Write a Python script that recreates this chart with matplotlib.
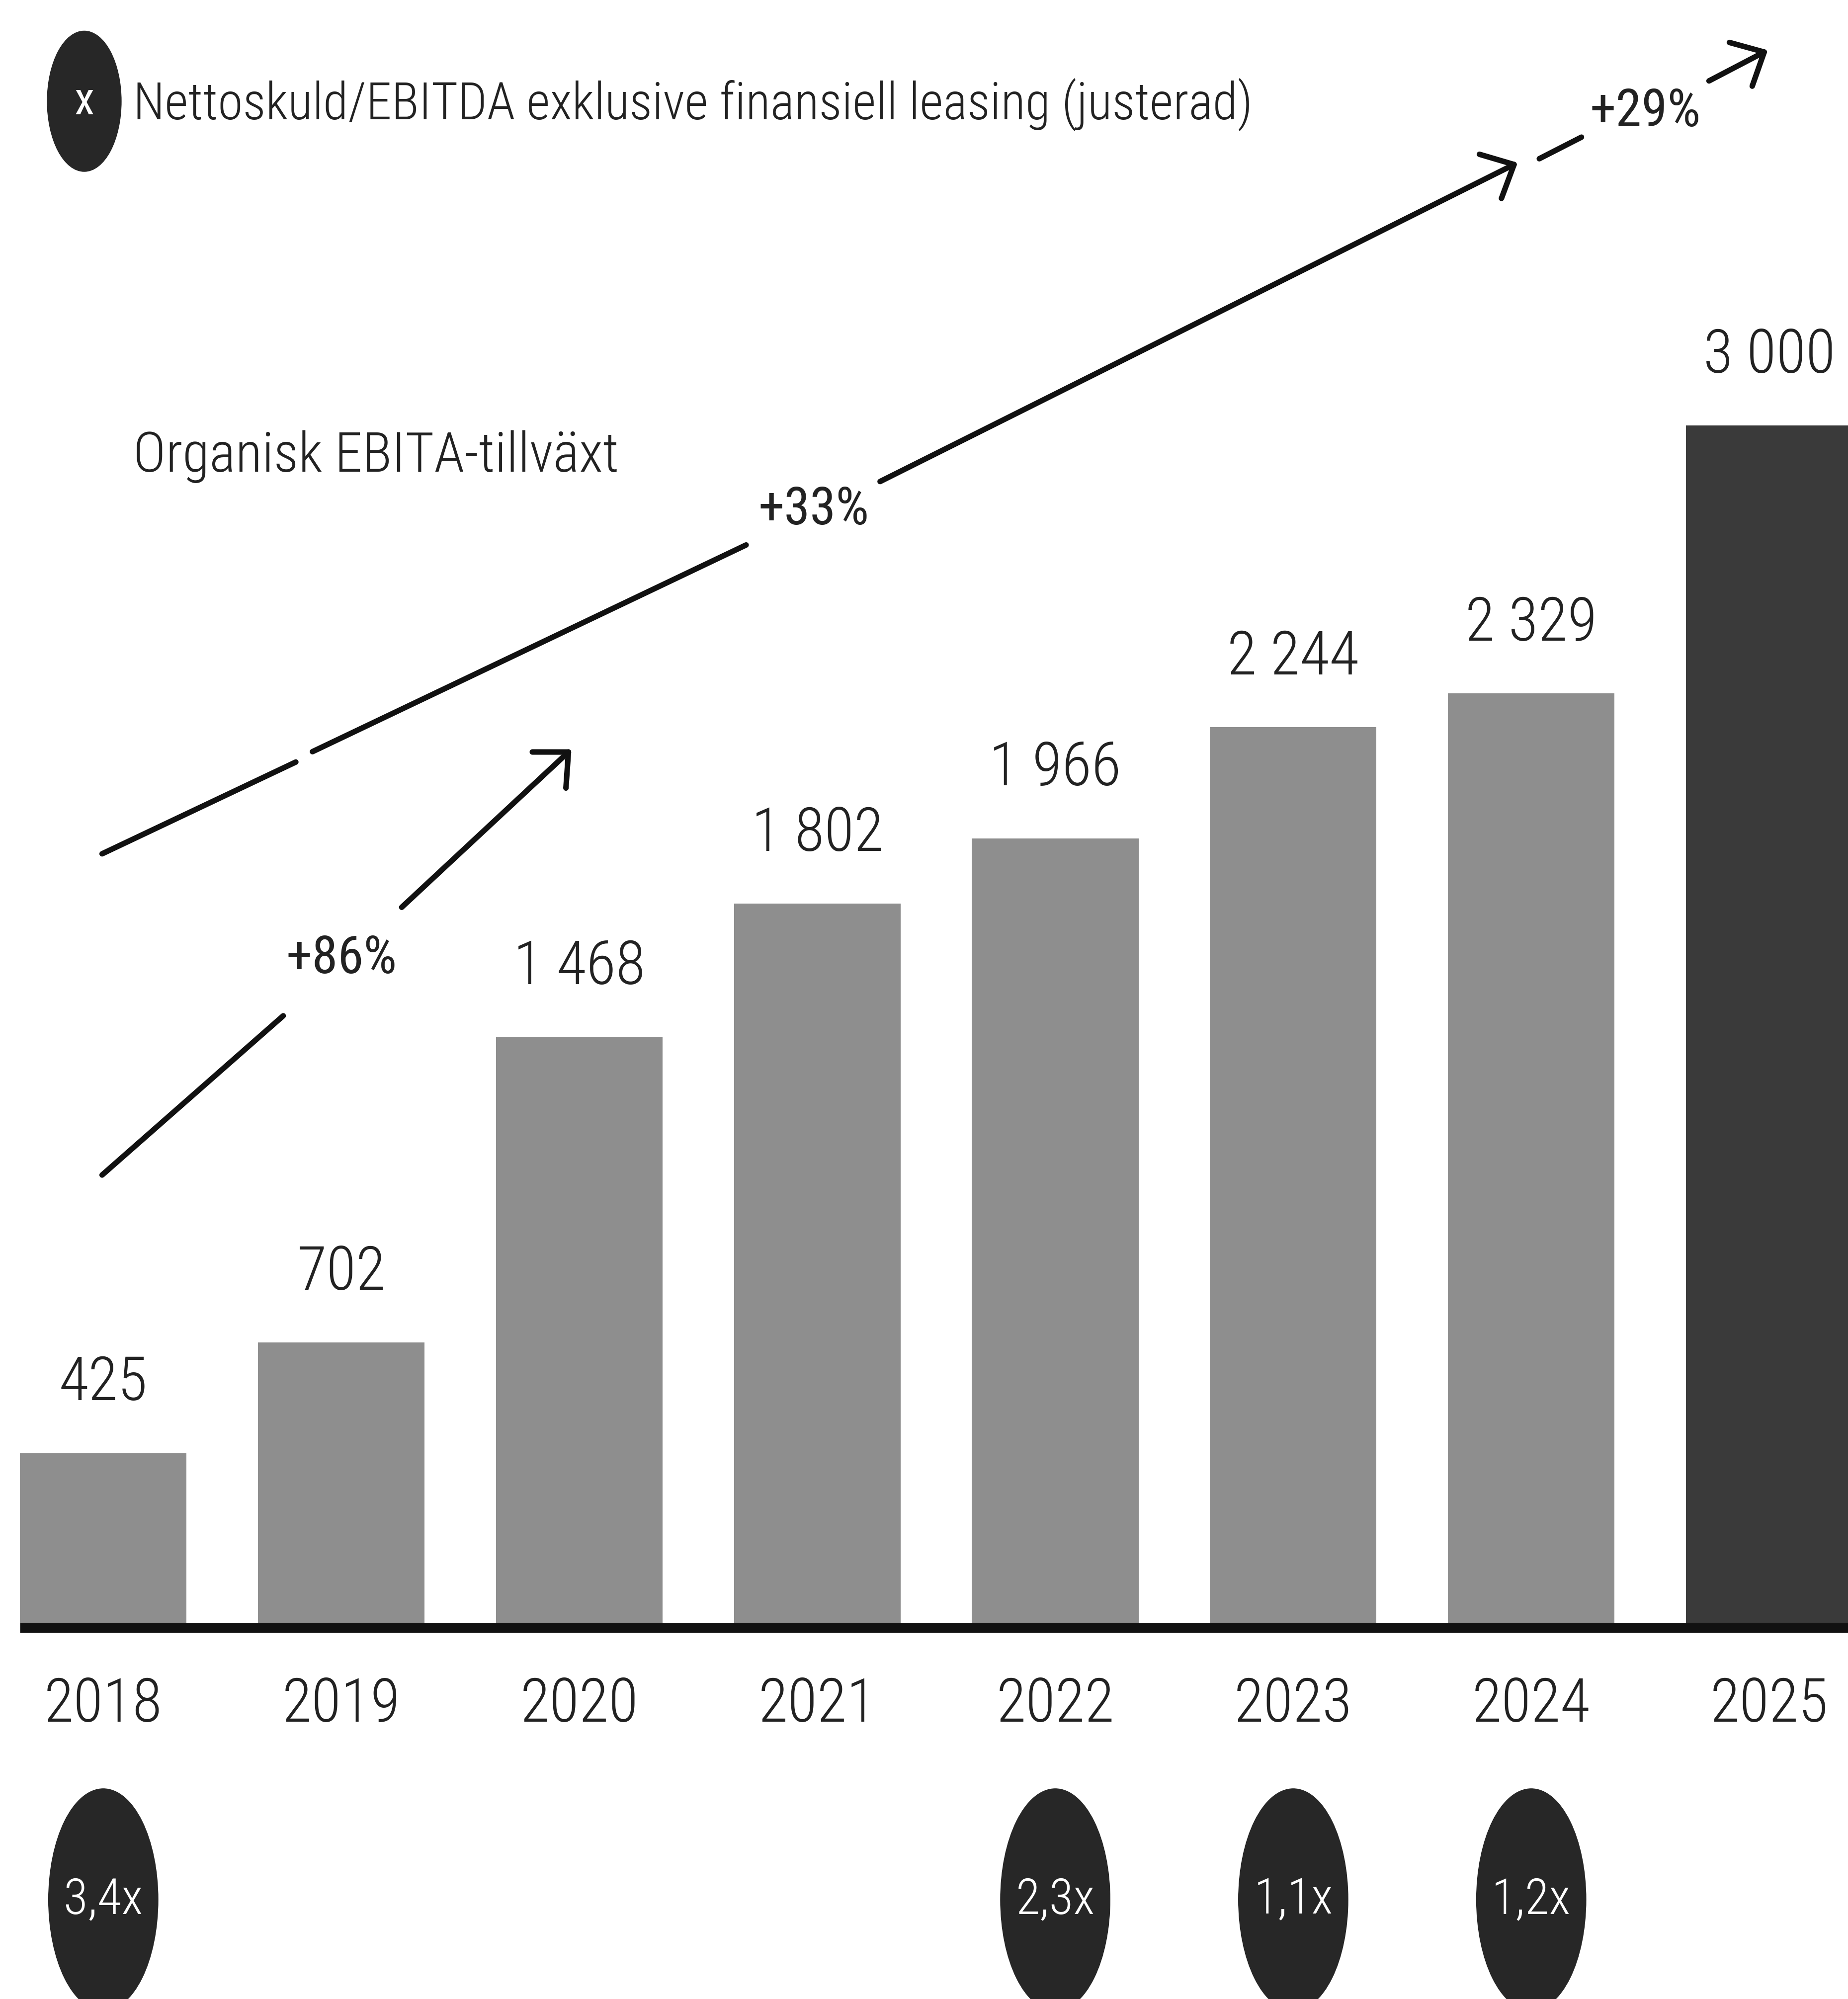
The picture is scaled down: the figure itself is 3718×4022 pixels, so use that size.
import os
import matplotlib
matplotlib.use("Agg")
import matplotlib.pyplot as plt
from matplotlib import font_manager
from matplotlib.font_manager import FontProperties
from matplotlib.patches import Ellipse

# data
years = [2018, 2019, 2020, 2021, 2022, 2023, 2024, 2025]
ebita = [425, 702, 1468, 1802, 1966, 2244, 2329, 3000]
ratio_years = [2018, 2022, 2023, 2024]
ratio_labels = ["3,4x", "2,3x", "1,1x", "1,2x"]
growth_labels = ["+86%", "+33%", "+29%"]
legend_text = "Nettoskuld/EBITDA exklusive finansiell leasing (justerad)"
growth_title = "Organisk EBITA-tillväxt"


def find_font(names):
    files = {os.path.basename(f.fname): f.fname for f in font_manager.fontManager.ttflist}
    for n in names:
        if n in files:
            return files[n]
    return None


light_path = find_font(["NotoSans-ExtraCondensedLight.ttf", "NotoSans-CondensedLight.ttf",
                        "RobotoCondensed-Light.ttf", "LiberationSansNarrow-Regular.ttf",
                        "DejaVuSansCondensed.ttf"])
reg_path = find_font(["NotoSans-ExtraCondensed.ttf", "NotoSans-Condensed.ttf",
                      "RobotoCondensed-Regular.ttf", "LiberationSansNarrow-Regular.ttf",
                      "DejaVuSansCondensed.ttf"])


def fp(path, size):
    if path:
        return FontProperties(fname=path, size=size)
    return FontProperties(family="DejaVu Sans", stretch="condensed", size=size)


text_col = "#222222"
bar_col = "#8e8e8e"
last_col = "#3a3a3a"
circle_col = "#272727"

fig = plt.figure(figsize=(37.18, 40.23), dpi=100)
ax = fig.add_axes([0, 0, 1, 1])
ax.set_xlim(-0.434, 7.331)
ax.set_ylim(-943, 4068)
ax.axis("off")

x = list(range(len(years)))
colors = [bar_col] * (len(years) - 1) + [last_col]
ax.bar(x, ebita, width=0.70, color=colors, zorder=2)
ax.plot([-0.35, 7.4], [-12, -12], color="#111111", lw=14, solid_capstyle="butt", zorder=3)

for xi, v in zip(x, ebita):
    ax.text(xi, v + 176, f"{v:,}".replace(",", " "), ha="center", va="center",
            fontproperties=fp(light_path, 88), color=text_col)
    ax.text(xi, -205, str(years[xi]), ha="center", va="center",
            fontproperties=fp(light_path, 88), color=text_col)

# net debt / EBITDA circles
for yr, lab in zip(ratio_years, ratio_labels):
    xi = years.index(yr)
    ax.add_patch(Ellipse((xi, -694), 0.46, 556, color=circle_col, zorder=2))
    ax.text(xi, -694, lab, ha="center", va="center", color="white",
            fontproperties=fp(light_path, 72), zorder=3)

# legend
ax.add_patch(Ellipse((-0.080, 3813), 0.311, 352, color=circle_col))
ax.text(-0.080, 3813, "x", ha="center", va="center", color="white",
        fontproperties=fp(reg_path, 66))
ax.text(0.125, 3806, legend_text, ha="left", va="center", color=text_col,
        fontproperties=fp(light_path, 74))
ax.text(0.125, 2924, growth_title, ha="left", va="center", color=text_col,
        fontproperties=fp(light_path, 80))

# growth arrows
line_kw = dict(color="#111111", lw=8, solid_capstyle="round", zorder=4)
arrow_kw = dict(arrowstyle="->, head_length=0.45, head_width=0.42", color="#111111",
                lw=8, mutation_scale=85, shrinkA=0, shrinkB=0)

ax.plot([-0.005, 0.756], [1122, 1521], **line_kw)
ax.annotate("", xy=(1.967, 2189), xytext=(1.254, 1793), arrowprops=arrow_kw)
ax.text(1.002, 1665, growth_labels[0], ha="center", va="center", color=text_col,
        fontproperties=fp(reg_path, 76))

ax.plot([-0.005, 0.809], [1927, 2157], **line_kw)
ax.plot([0.879, 2.701], [2183, 2701], **line_kw)
ax.annotate("", xy=(5.943, 3659), xytext=(3.264, 2860), arrowprops=arrow_kw)
ax.text(2.985, 2790, growth_labels[1], ha="center", va="center", color=text_col,
        fontproperties=fp(reg_path, 76))

ax.plot([6.034, 6.211], [3669, 3723], **line_kw)
ax.text(6.479, 3787, growth_labels[2], ha="center", va="center", color=text_col,
        fontproperties=fp(reg_path, 76))
ax.annotate("", xy=(6.994, 3941), xytext=(6.747, 3864), arrowprops=arrow_kw)

fig.savefig("out.png", dpi=100, facecolor="white")
